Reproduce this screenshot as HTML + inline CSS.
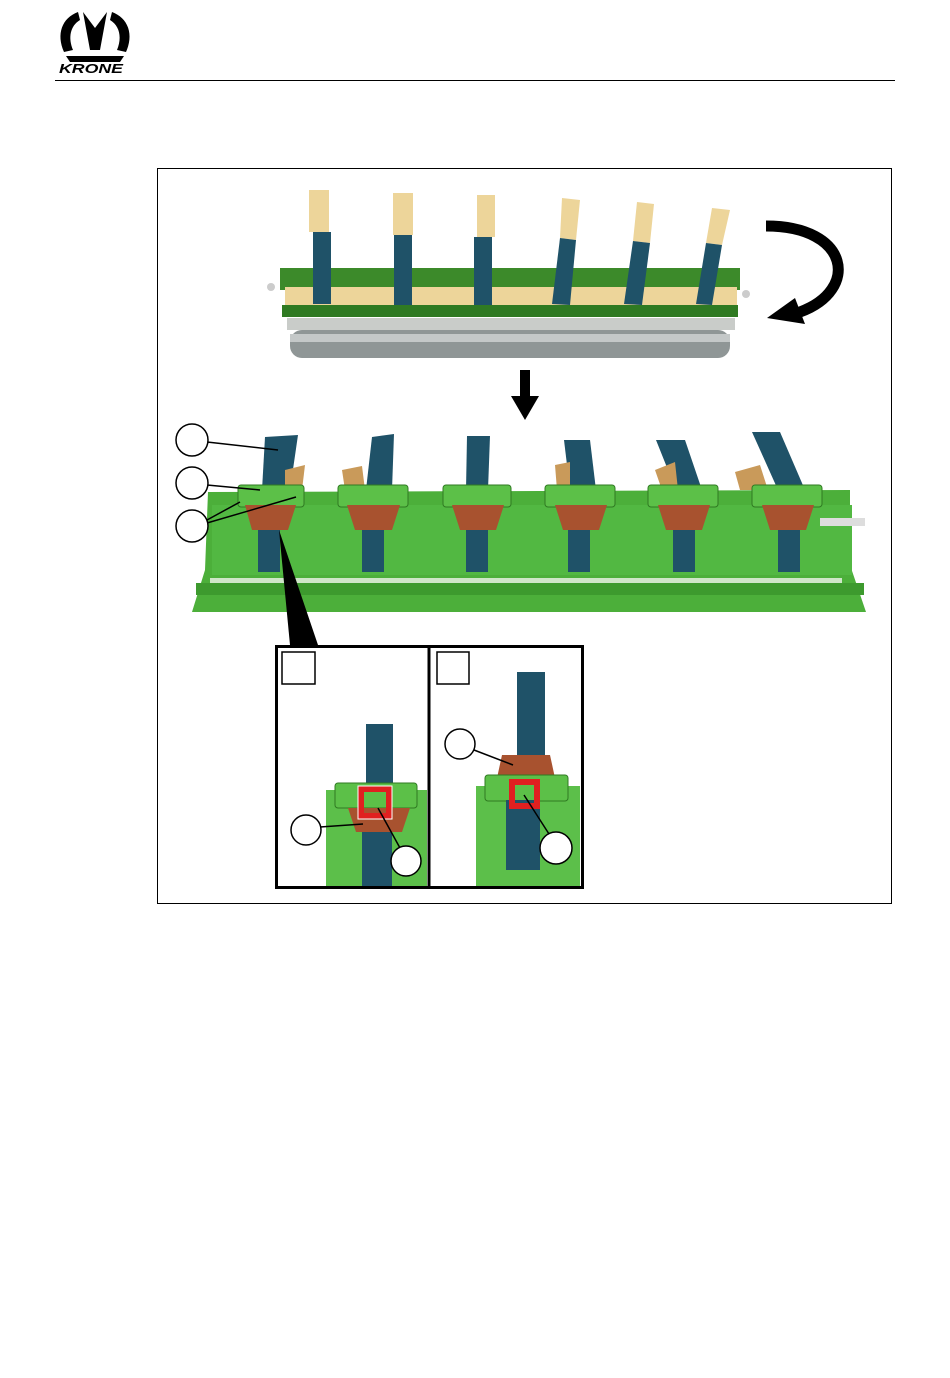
<!DOCTYPE html>
<html><head><meta charset="utf-8"><style>
html,body{margin:0;padding:0;background:#fff;width:950px;height:1378px;overflow:hidden}
svg{display:block}
</style></head><body>
<svg width="950" height="1378" viewBox="0 0 950 1378" xmlns="http://www.w3.org/2000/svg">
<g fill="#000">
<path d="M78 12 C62 18 56 34 64 52 L73 50 C68 38 70 26 80 20 Z"/>
<path d="M112 12 C128 18 134 34 126 52 L117 50 C122 38 120 26 110 20 Z"/>
<path d="M83 12 L95 28 L107 12 L100 50 L90 50 Z"/>
<path d="M66 56 L124 56 L120 62 L70 62 Z"/>
</g>
<text x="59" y="73" font-family="Liberation Sans, sans-serif" font-weight="bold" font-style="italic" font-size="13" fill="#000" textLength="64" lengthAdjust="spacingAndGlyphs">KRONE</text>
<line x1="55" y1="80.5" x2="895" y2="80.5" stroke="#000" stroke-width="1"/>
<rect x="157.5" y="168.5" width="734" height="735" fill="none" stroke="#000" stroke-width="1"/>

<rect x="280" y="268" width="460" height="22" fill="#3c8a2a"/>
<rect x="285" y="287" width="452" height="20" fill="#edd59a"/>
<rect x="282" y="305" width="456" height="12" fill="#2f7a22"/>
<rect x="287" y="318" width="448" height="12" fill="#c9ccc9"/>
<rect x="290" y="330" width="440" height="28" rx="12" fill="#8f9696"/>
<rect x="290" y="334" width="440" height="8" fill="#c4c8c8"/>
<circle cx="271" cy="287" r="4" fill="#ccc"/>
<circle cx="746" cy="294" r="4" fill="#ccc"/>
<g>
<rect x="309" y="190" width="20" height="42" fill="#edd59a"/><rect x="313" y="232" width="18" height="72" fill="#1f5268"/>
<rect x="393" y="193" width="20" height="42" fill="#edd59a"/><rect x="394" y="235" width="18" height="70" fill="#1f5268"/>
<rect x="477" y="195" width="18" height="42" fill="#edd59a"/><rect x="474" y="237" width="18" height="68" fill="#1f5268"/>
<path d="M562 198 L580 200 L576 240 L560 238 Z" fill="#edd59a"/><path d="M560 238 L576 240 L570 305 L552 304 Z" fill="#1f5268"/>
<path d="M637 202 L654 204 L650 243 L633 241 Z" fill="#edd59a"/><path d="M633 241 L650 243 L642 305 L624 304 Z" fill="#1f5268"/>
<path d="M712 208 L730 210 L722 245 L706 243 Z" fill="#edd59a"/><path d="M706 243 L722 245 L712 305 L696 304 Z" fill="#1f5268"/>
</g>
<path d="M766 226 C850 226 860 290 800 312" fill="none" stroke="#000" stroke-width="11"/>
<path d="M767 318 L795 298 L805 324 Z" fill="#000"/>
<rect x="520" y="370" width="10" height="28" fill="#000"/>
<path d="M511 396 L539 396 L525 420 Z" fill="#000"/>

<path d="M192 612 L205 570 L208 492 L850 490 L850 565 L866 612 Z" fill="#4caf3a"/>
<rect x="212" y="505" width="640" height="70" fill="#52b842"/>
<rect x="210" y="578" width="632" height="5" fill="#cfe6c8"/>
<rect x="196" y="583" width="668" height="12" fill="#3d9a2e"/>
<g fill="#1f5268">
<path d="M265 437 L298 435 L290 490 L262 490 Z"/>
<path d="M372 437 L394 434 L392 490 L366 490 Z"/>
<path d="M467 436 L490 436 L488 490 L466 490 Z"/>
<path d="M564 440 L590 440 L596 490 L570 490 Z"/>
<path d="M656 440 L685 440 L702 490 L676 490 Z"/>
<path d="M752 432 L780 432 L805 490 L778 490 Z"/>
</g>
<g fill="#c99a5a">
<path d="M285 470 L305 465 L302 490 L285 490 Z"/>
<path d="M342 470 L362 466 L365 490 L345 490 Z"/>
<path d="M555 465 L570 462 L570 490 L557 490 Z"/>
<path d="M655 470 L675 462 L678 490 L662 490 Z"/>
<path d="M735 472 L760 465 L768 490 L740 490 Z"/>
</g>
<g fill="#5cc048" stroke="#2f7a22" stroke-width="1">
<rect x="238" y="485" width="66" height="22" rx="3"/>
<rect x="338" y="485" width="70" height="22" rx="3"/>
<rect x="443" y="485" width="68" height="22" rx="3"/>
<rect x="545" y="485" width="70" height="22" rx="3"/>
<rect x="648" y="485" width="70" height="22" rx="3"/>
<rect x="752" y="485" width="70" height="22" rx="3"/>
</g>
<g fill="#a8522f">
<path d="M245 505 L296 505 L288 530 L252 530 Z"/>
<path d="M347 505 L400 505 L392 530 L355 530 Z"/>
<path d="M452 505 L504 505 L496 530 L460 530 Z"/>
<path d="M555 505 L607 505 L599 530 L563 530 Z"/>
<path d="M658 505 L710 505 L702 530 L666 530 Z"/>
<path d="M762 505 L814 505 L806 530 L770 530 Z"/>
</g>
<g fill="#1f5268">
<rect x="258" y="530" width="22" height="42"/>
<rect x="362" y="530" width="22" height="42"/>
<rect x="466" y="530" width="22" height="42"/>
<rect x="568" y="530" width="22" height="42"/>
<rect x="673" y="530" width="22" height="42"/>
<rect x="778" y="530" width="22" height="42"/>
</g>
<rect x="820" y="518" width="45" height="8" fill="#ddd"/>
<g fill="#fff" stroke="#000" stroke-width="1.5">
<line x1="207" y1="442" x2="278" y2="450"/>
<line x1="207" y1="485" x2="260" y2="490"/>
<line x1="207" y1="520" x2="240" y2="502"/>
<line x1="207" y1="523" x2="296" y2="497"/>
<circle cx="192" cy="440" r="16"/>
<circle cx="192" cy="483" r="16"/>
<circle cx="192" cy="526" r="16"/>
</g>
<path d="M279 530 L290 645 L318 645 Z" fill="#000"/>

<rect x="276.5" y="646.5" width="306" height="241" fill="#fff" stroke="#000" stroke-width="3"/>
<line x1="429" y1="646" x2="429" y2="888" stroke="#000" stroke-width="3"/>
<rect x="282" y="652" width="33" height="32" fill="none" stroke="#000" stroke-width="1.5"/>
<rect x="437" y="652" width="32" height="32" fill="none" stroke="#000" stroke-width="1.5"/>
<rect x="326" y="790" width="101" height="96" fill="#5cbf4a"/>
<rect x="366" y="724" width="27" height="62" fill="#1f5268"/>
<rect x="335" y="783" width="82" height="25" rx="3" fill="#5cc048" stroke="#2f7a22"/>
<path d="M348 808 L410 808 L402 832 L356 832 Z" fill="#a8522f"/>
<rect x="362" y="832" width="30" height="54" fill="#1f5268"/>
<rect x="361" y="789" width="28" height="27" fill="none" stroke="#e02020" stroke-width="6"/>
<rect x="358" y="786" width="34" height="33" fill="none" stroke="#fff" stroke-width="1"/>
<g fill="#fff" stroke="#000" stroke-width="1.5">
<line x1="320" y1="827" x2="363" y2="824"/>
<line x1="378" y1="808" x2="400" y2="848"/>
<circle cx="306" cy="830" r="15"/>
<circle cx="406" cy="861" r="15"/>
</g>
<rect x="476" y="786" width="104" height="100" fill="#5cbf4a"/>
<rect x="517" y="672" width="28" height="84" fill="#1f5268"/>
<path d="M502 755 L550 755 L555 778 L497 778 Z" fill="#a8522f"/>
<rect x="485" y="775" width="83" height="26" rx="3" fill="#5cc048" stroke="#2f7a22"/>
<rect x="506" y="800" width="34" height="70" fill="#1f5268"/>
<rect x="512" y="782" width="25" height="24" fill="none" stroke="#e02020" stroke-width="6"/>
<g fill="#fff" stroke="#000" stroke-width="1.5">
<line x1="474" y1="750" x2="513" y2="765"/>
<line x1="524" y1="795" x2="549" y2="834"/>
<circle cx="460" cy="744" r="15"/>
<circle cx="556" cy="848" r="16"/>
</g>
</svg>
</body></html>
